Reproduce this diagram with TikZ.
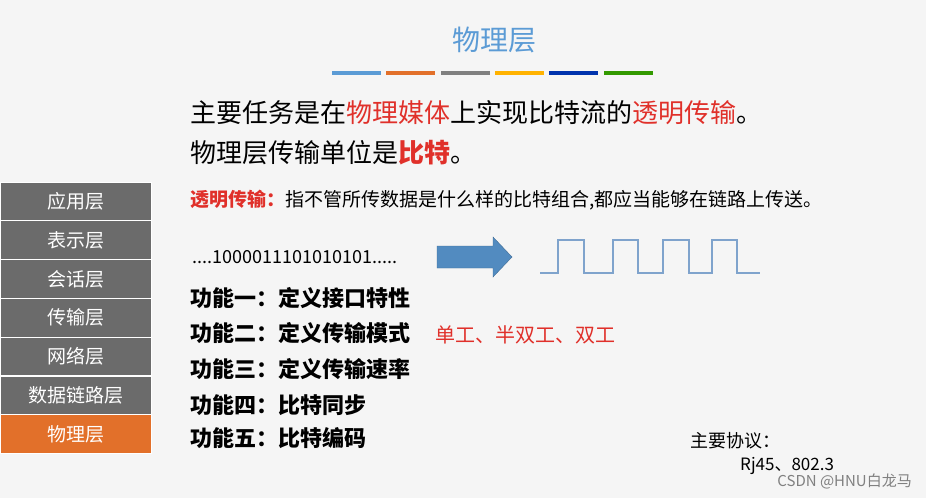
\documentclass[tikz,border=0pt]{standalone}
\usepackage{fontspec}
\setmainfont{Noto Sans CJK SC}
\definecolor{titleblue}{HTML}{5B9BD5}
\definecolor{slidered}{HTML}{E0302A}
\definecolor{layergray}{HTML}{6B6B6B}
\definecolor{layerorange}{HTML}{E2702A}
\definecolor{wave}{HTML}{7FA3CC}
\tikzset{
  layer/.style={draw=white, line width=1pt, fill=layergray, text=white,
    minimum width=151pt, minimum height=38.5pt, inner sep=0pt,
    font=\fontsize{19pt}{19pt}\selectfont},
  func/.style={anchor=west, inner sep=0pt, font=\fontsize{22pt}{22pt}\selectfont\bfseries},
  bigtext/.style={anchor=west, inner sep=0pt, font=\fontsize{26pt}{26pt}\selectfont}
}
\begin{document}
\begin{tikzpicture}[x=1pt, y=-1pt]
\fill[white!96!black] (0,0) rectangle (926,498);
\useasboundingbox (0,0) rectangle (926,498);

\node[text=titleblue, font=\fontsize{28pt}{28pt}\selectfont] (title) at (494,40) {物理层};
\foreach \x/\c in {332/titleblue, 386/layerorange, 441/gray, 495/orange!60!yellow, 549/blue!60!black!80!cyan, 604/green!50!black!80!yellow}
  \fill[\c] (\x,70.5) rectangle ++(49,4);

\node[bigtext] (task) at (190,113) {主要任务是在\textcolor{slidered}{物理媒体}上实现比特流的\textcolor{slidered}{透明传输}。};
\node[bigtext] (unit) at (190,153) {物理层传输单位是\textcolor{slidered}{\bfseries 比特}。};
\node[anchor=west, inner sep=0pt, font=\fontsize{19pt}{19pt}\selectfont] (transp) at (190,200)
  {\textcolor{slidered}{\bfseries 透明传输：}指不管所传数据是什么样的比特组合,都应当能够在链路上传送。};

% layer stack
\foreach \t [count=\i] in {应用层,表示层,会话层,传输层,网络层,数据链路层}
  \node[layer] (l\i) at (75.5,182+38.8*\i-19.4) {\t};
\node[layer, fill=layerorange] (l7) at (75.5,182+38.8*7-19.4) {物理层};

\node[anchor=west, inner sep=0pt, font=\fontsize{18pt}{18pt}\selectfont] (bits) at (192,257) {....1000011101010101.....};
\coordinate (arr) at (437,257);
\fill[titleblue!90!black, draw=titleblue!70!black] (arr) ++(0,-11) -- ++(56,0) -- ++(0,-9)
  -- ++(19,20) -- ++(-19,20) -- ++(0,-9) -- ++(-56,0) -- cycle;
\draw[wave, line width=1.2pt] (540,273) -- (558,273) -- (558,240) -- (584,240) -- (584,273)
  -- (613,273) -- (613,240) -- (638,240) -- (638,273) -- (663,273) -- (663,240) -- (689,240)
  -- (689,273) -- (712,273) -- (712,240) -- (737,240) -- (737,273) -- (760,273);

\foreach \t/\y [count=\i] in {功能一：定义接口特性/298, 功能二：定义传输模式/333, 功能三：定义传输速率/369, 功能四：比特同步/405, 功能五：比特编码/438}
  \node[func] (f\i) at (190,\y) {\t};
\node[anchor=west, inner sep=0pt, text=slidered, font=\fontsize{20pt}{20pt}\selectfont] (modes) at (435,335) {单工、半双工、双工};

\node[anchor=west, inner sep=0pt, font=\fontsize{18pt}{18pt}\selectfont] (proto) at (690,441) {主要协议：};
\node[anchor=west, inner sep=0pt, font=\fontsize{17pt}{17pt}\selectfont] (rj) at (740,466) {Rj45、802.3};
\node[anchor=east, inner sep=0pt, text=gray, font=\fontsize{15pt}{15pt}\selectfont] (mark) at (912,481) {CSDN @HNU白龙马};
\end{tikzpicture}
\end{document}
